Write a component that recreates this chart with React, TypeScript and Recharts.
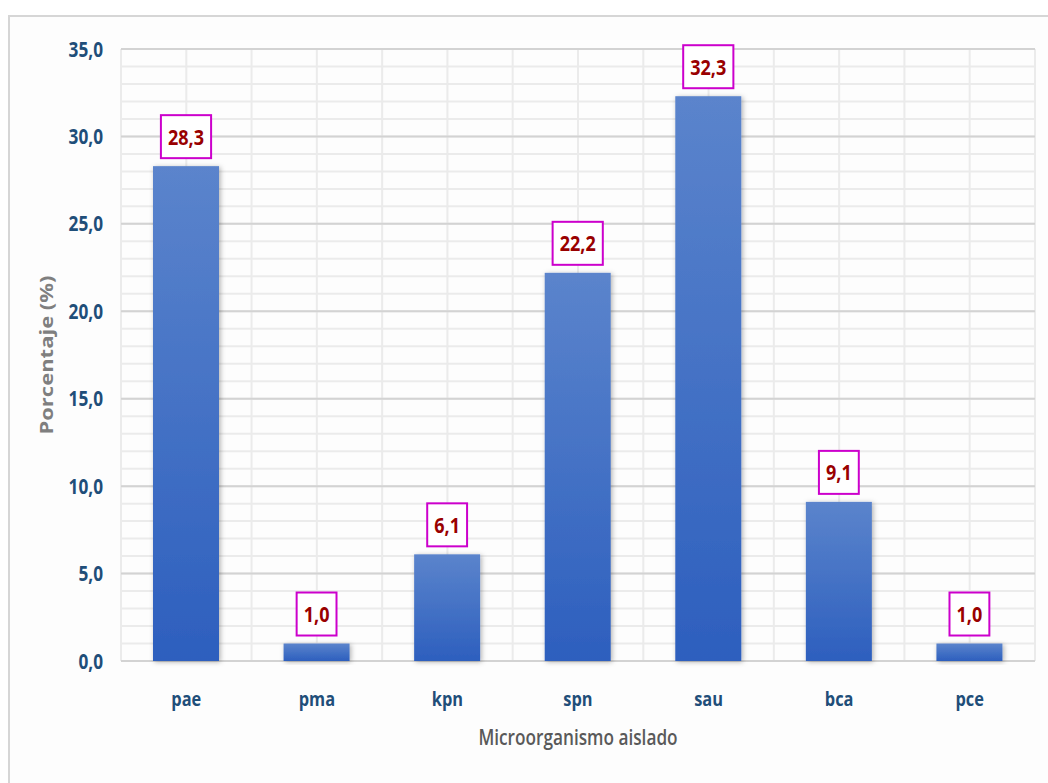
import React from 'react';
import { BarChart, Bar, XAxis, YAxis, CartesianGrid, LabelList, Label } from 'recharts';

// Microorganism codes and their share (%) of isolates
const categories = ['pae', 'pma', 'kpn', 'spn', 'sau', 'bca', 'pce'];
const percentages = [28.3, 1.0, 6.1, 22.2, 32.3, 9.1, 1.0];
const yTicks = [0, 5, 10, 15, 20, 25, 30, 35];
const Y_MAX = 35;
// light grid: one line per unit, and one per half category
const MINOR_Y_STEP = 1;
const VERTICAL_DIVISIONS = categories.length * 2;

const data = categories.map((name, i) => ({ name, value: percentages[i] }));

const FONT = '"Open Sans", "Noto Sans", sans-serif';
const SQUEEZE = 0.82;
const fmt = (v: number) => v.toFixed(1).replace('.', ',');

const YTick = (props: any) => {
  const { x, y, payload } = props;
  return (
    <g transform={`translate(${x},${y}) scale(${SQUEEZE},1)`}>
      <text textAnchor="end" dy="0.357em" fontFamily={FONT} fontWeight={700} fontSize={21} fill="#1f4e79">
        {fmt(payload.value)}
      </text>
    </g>
  );
};

const XTick = (props: any) => {
  const { x, y, payload } = props;
  return (
    <g transform={`translate(${x},${y + 43}) scale(${SQUEEZE},1)`}>
      <text textAnchor="middle" fontFamily={FONT} fontWeight={700} fontSize={20} fill="#1f4e79">
        {payload.value}
      </text>
    </g>
  );
};

const ValueBox = (props: any) => {
  const { x, y, width, value } = props;
  const text = fmt(Number(value));
  const cx = x + width / 2;
  const digits = text.replace(',', '').length;
  const textW = (digits * 0.572 + 0.29) * 22 * SQUEEZE;
  const boxW = textW + 14;
  const boxH = 43;
  const boxBottom = y - 8;
  const cy = boxBottom - boxH / 2;
  return (
    <g>
      <rect x={cx - boxW / 2} y={boxBottom - boxH} width={boxW} height={boxH} fill="#ffffff" stroke="#cc00cc" strokeWidth={2} />
      <g transform={`translate(${cx},${cy}) scale(${SQUEEZE},1)`}>
        <text textAnchor="middle" dy="0.357em" fontFamily={FONT} fontWeight={700} fontSize={22} fill="#990000">
          {text}
        </text>
      </g>
    </g>
  );
};

const ShadedBar = (props: any) => {
  const { x, y, width, height } = props;
  if (!height || height <= 0) return null;
  return <rect x={x} y={y} width={width} height={height} fill="url(#barFill)" filter="url(#barShadow)" />;
};

const YTitle = (props: any) => {
  const { viewBox } = props;
  const cx = 47;
  const cy = viewBox.y + viewBox.height / 2;
  return (
    <g transform={`translate(${cx},${cy}) scale(${SQUEEZE},1) rotate(-90)`}>
      <text textAnchor="middle" dy="0.357em" fontFamily={FONT} fontWeight={700} fontSize={22} fill="#7f7f7f">
        Porcentaje (%)
      </text>
    </g>
  );
};

const XTitle = (props: any) => {
  const { viewBox } = props;
  const cx = viewBox.x + viewBox.width / 2;
  return (
    <g transform={`translate(${cx},${viewBox.y + 84}) scale(${SQUEEZE},1)`}>
      <text textAnchor="middle" fontFamily={FONT} fontWeight={600} fontSize={21} fill="#595959">
        Microorganismo aislado
      </text>
    </g>
  );
};

const minorHorizontal = ({ offset }: any) => {
  const n = Y_MAX / MINOR_Y_STEP;
  return Array.from({ length: n + 1 }, (_, i) => offset.top + (i * offset.height) / n);
};

const minorVertical = ({ offset }: any) =>
  Array.from({ length: VERTICAL_DIVISIONS + 1 }, (_, i) => offset.left + (i * offset.width) / VERTICAL_DIVISIONS);

export default function App() {
  return (
    <div style={{ position: 'absolute', left: 0, top: 0, width: 1048, height: 783, background: '#ffffff', overflow: 'hidden' }}>
      <div
        style={{
          position: 'absolute',
          left: 8,
          top: 15,
          width: 1060,
          height: 800,
          borderLeft: '2px solid #d6d6d6',
          borderTop: '2px solid #d6d6d6',
          background: '#fdfdfd',
        }}
      />
      <div style={{ position: 'absolute', left: 0, top: 0 }}>
        <BarChart width={1048} height={783} data={data} margin={{ top: 49, right: 13, bottom: 62, left: 0 }}>
          <defs>
            <linearGradient id="barFill" x1="0" y1="0" x2="0" y2="1">
              <stop offset="0%" stopColor="#5b84cc" />
              <stop offset="100%" stopColor="#2d5fbe" />
            </linearGradient>
            <filter id="barShadow" x="-20%" y="-20%" width="140%" height="140%">
              <feDropShadow dx="1.5" dy="1" stdDeviation="2.5" floodColor="#000000" floodOpacity="0.3" />
            </filter>
          </defs>
          <CartesianGrid
            xAxisId="cat"
            yAxisId="main"
            stroke="#ebebeb"
            strokeWidth={2}
            horizontalCoordinatesGenerator={minorHorizontal}
            verticalCoordinatesGenerator={minorVertical}
          />
          <CartesianGrid xAxisId="cat" yAxisId="main" vertical={false} stroke="#d3d3d3" strokeWidth={2} />
          <XAxis
            xAxisId="cat"
            dataKey="name"
            type="category"
            axisLine={false}
            tickLine={false}
            tickSize={0}
            height={60}
            interval={0}
            tick={<XTick />}
          >
            <Label content={<XTitle />} />
          </XAxis>
          <YAxis
            yAxisId="main"
            type="number"
            domain={[0, Y_MAX]}
            ticks={yTicks}
            width={121}
            axisLine={false}
            tickLine={false}
            tickSize={0}
            tickMargin={18}
            interval={0}
            tick={<YTick />}
          >
            <Label content={<YTitle />} />
          </YAxis>
          <Bar
            xAxisId="cat"
            yAxisId="main"
            dataKey="value"
            barSize={66}
            shape={<ShadedBar />}
            isAnimationActive={false}
          >
            <LabelList dataKey="value" content={<ValueBox />} />
          </Bar>
        </BarChart>
      </div>
    </div>
  );
}
